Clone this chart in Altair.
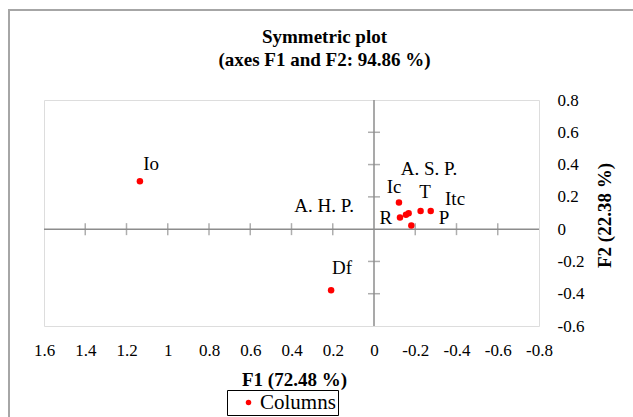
import altair as alt
import pandas as pd

# Data
names = ["Io", "Df", "Ic", "R", "A. H. P.", "A. S. P.", "P", "T", "Itc"]
f1 = [1.135, 0.208, -0.121, -0.126, -0.155, -0.168, -0.181, -0.226, -0.275]
f2 = [0.297, -0.378, 0.165, 0.072, 0.089, 0.099, 0.023, 0.113, 0.112]
# label anchor positions (data units)
lab_f1 = [1.081, 0.155, -0.097, -0.058, 0.242, -0.267, -0.339, -0.247, -0.393]
lab_f2 = [0.403, -0.242, 0.260, 0.068, 0.142, 0.372, 0.068, 0.229, 0.186]
series = ["Columns"] * len(names)

x_ticks = [1.6, 1.4, 1.2, 1.0, 0.8, 0.6, 0.4, 0.2, 0.0, -0.2, -0.4, -0.6, -0.8]
y_ticks = [0.8, 0.6, 0.4, 0.2, 0.0, -0.2, -0.4, -0.6]
x_minor = [1.4, 1.2, 1.0, 0.8, 0.6, 0.4, 0.2, -0.2, -0.4, -0.6]
y_minor = [0.6, 0.4, 0.2, -0.2, -0.4]

FONT = "Times New Roman, Liberation Serif, serif"
GRAY = "#8c8c8c"

pts = pd.DataFrame({"F1": f1, "F2": f2, "name": names, "series": series})
labs = pd.DataFrame({"F1": lab_f1, "F2": lab_f2, "name": names})
zero = pd.DataFrame({"v": [0.0]})
xt = pd.DataFrame({"F1": x_minor, "F2": [0.0] * len(x_minor)})
yt = pd.DataFrame({"F2": y_minor, "F1": [0.0] * len(y_minor)})

xscale = alt.Scale(domain=[-0.8, 1.6], reverse=True, nice=False, zero=False)
yscale = alt.Scale(domain=[-0.6, 0.8], nice=False, zero=False)

lab_expr = "toString(round(datum.value*10)/10)"

xaxis = alt.Axis(
    values=x_ticks, labelExpr=lab_expr, domain=False, ticks=False, grid=False,
    labelFont=FONT, labelFontSize=17, labelColor="black", labelPadding=16,
    title="F1 (72.48 %)", titleFont=FONT, titleFontSize=19, titleFontWeight="bold",
    titleColor="black", titleX=250, titleY=53, titleBaseline="middle", titleAlign="center",
    labelFlush=False, labelOverlap=False,
)
yaxis = alt.Axis(
    orient="right", values=y_ticks, labelExpr=lab_expr, domain=False, ticks=False, grid=False,
    labelFont=FONT, labelFontSize=17, labelColor="black", labelPadding=18, labelAlign="left",
    title="F2 (22.38 %)", titleFont=FONT, titleFontSize=19, titleFontWeight="bold",
    titleColor="black", titleAngle=270, titleX=65, titleY=115, titleBaseline="middle",
    titleAlign="center", labelFlush=False, labelOverlap=False,
)

frame = alt.Chart(zero).mark_rect(fill=None, stroke="#a6a6a6", strokeWidth=2).encode(
    x=alt.value(-35), x2=alt.value(620), y=alt.value(-90), y2=alt.value(420)
)

hline = alt.Chart(zero).mark_rule(color=GRAY, strokeWidth=1.5).encode(
    y=alt.Y("v:Q", scale=yscale, axis=yaxis)
)
vline = alt.Chart(zero).mark_rule(color=GRAY, strokeWidth=1.5).encode(
    x=alt.X("v:Q", scale=xscale, axis=xaxis)
)
xtick = alt.Chart(xt).mark_tick(orient="vertical", size=12, thickness=1.5, color=GRAY).encode(
    x=alt.X("F1:Q", scale=xscale, axis=xaxis), y=alt.Y("F2:Q", scale=yscale, axis=yaxis)
)
ytick = alt.Chart(yt).mark_tick(orient="horizontal", size=12, thickness=1.5, color=GRAY).encode(
    x=alt.X("F1:Q", scale=xscale, axis=xaxis), y=alt.Y("F2:Q", scale=yscale, axis=yaxis)
)

points = alt.Chart(pts).mark_circle(size=42, opacity=1).encode(
    x=alt.X("F1:Q", scale=xscale, axis=xaxis),
    y=alt.Y("F2:Q", scale=yscale, axis=yaxis),
    color=alt.Color(
        "series:N",
        scale=alt.Scale(domain=["Columns"], range=["#ff0000"]),
        legend=alt.Legend(
            title=None, orient="none", legendX=183, legendY=290,
            strokeColor="black", padding=2, symbolType="circle", symbolSize=30,
            symbolOffset=9, labelFont=FONT, labelFontSize=21, labelColor="black",
            labelOffset=1,
        ),
    ),
)

texts = alt.Chart(labs).mark_text(font=FONT, fontSize=19, color="black", baseline="middle", align="center").encode(
    x=alt.X("F1:Q", scale=xscale, axis=xaxis),
    y=alt.Y("F2:Q", scale=yscale, axis=yaxis),
    text="name:N",
)

chart = alt.layer(frame, hline, vline, xtick, ytick, points, texts).properties(
    width=495, height=226,
    title=alt.TitleParams(
        text=["Symmetric plot", "(axes F1 and F2: 94.86 %)"],
        font=FONT, fontSize=19, fontWeight="bold", color="black",
        anchor="middle", dx=33, offset=-61, lineHeight=23,
    ),
    autosize=alt.AutoSizeParams(type="none"),
    padding={"left": 44, "top": 100, "right": 94, "bottom": 91},
).configure_view(stroke=GRAY, strokeWidth=1.5).configure(background="white")

chart.save("out.html", embed_options={"renderer": "svg", "actions": False})
